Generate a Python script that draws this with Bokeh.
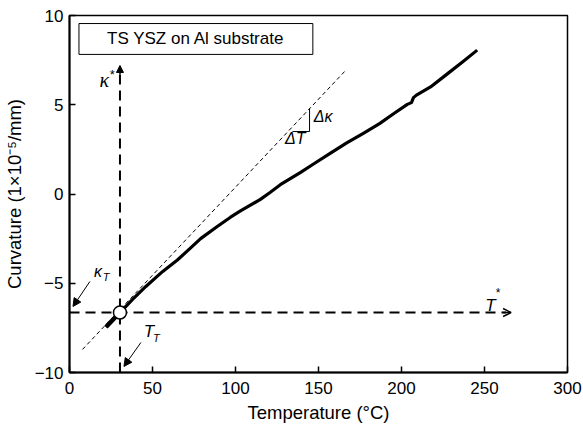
from bokeh.plotting import figure
from bokeh.models import Range1d, Arrow, NormalHead, OpenHead, BoxAnnotation, Label
from bokeh.embed import file_html
from bokeh.resources import INLINE

# Measured curvature vs temperature
temperature = [22.0, 26.0, 30.4, 38.0, 46.0, 56.0, 65.0, 72.0, 79.0, 89.0, 97.0, 103.0,
               115.0, 121.0, 127.0, 133.0, 139.0, 147.0, 157.0, 167.0, 177.0, 187.0, 195.0,
               203.5, 206.0, 207.2, 209.0, 217.5, 227.6, 237.5, 245.6]
curvature = [-7.45, -7.06, -6.64, -5.90, -5.18, -4.35, -3.70, -3.10, -2.50, -1.82, -1.30, -0.95,
             -0.30, 0.10, 0.52, 0.86, 1.20, 1.68, 2.28, 2.86, 3.40, 3.96, 4.48,
             5.02, 5.12, 5.40, 5.54, 6.00, 6.73, 7.45, 8.06]

# Tangent (linear fit) line
tangent_T = [7.8, 165.7]
tangent_k = [-8.71, 6.86]

# Transition point
T_T = 30.4
kappa_T = -6.64
kappa_axis_top = 7.2
T_axis_end = 266.0

x_ticks = [0, 50, 100, 150, 200, 250, 300]
y_ticks = [-10, -5, 0, 5, 10]

FONT = "Liberation Sans"
SERIF = "Liberation Serif"

p = figure(width=583, height=429, output_backend="svg", toolbar_location=None,
           x_range=Range1d(0, 300), y_range=Range1d(-10, 10),
           min_border_left=68, min_border_right=16, min_border_top=15, min_border_bottom=57,
           background_fill_color="white", border_fill_color="white")
p.grid.visible = False
p.outline_line_color = "black"
p.outline_line_width = 1.5
p.outline_line_alpha = 1

for ax in (p.xaxis[0], p.yaxis[0]):
    ax.axis_line_width = 2
    ax.axis_line_color = "black"
    ax.major_tick_in = 6
    ax.major_tick_out = 0
    ax.minor_tick_in = 3
    ax.minor_tick_out = 0
    ax.major_tick_line_width = 1.5
    ax.minor_tick_line_width = 1
    ax.major_label_text_font = FONT
    ax.major_label_text_font_size = "17px"
    ax.major_label_text_color = "black"
    ax.axis_label_text_font = FONT
    ax.axis_label_text_font_size = "18.5px"
    ax.axis_label_text_font_style = "normal"
    ax.axis_label_text_color = "black"

p.xaxis.ticker = x_ticks
p.yaxis.ticker = y_ticks
p.xaxis.ticker.num_minor_ticks = 5
p.yaxis.ticker.num_minor_ticks = 5
p.xaxis.major_label_standoff = 9
p.yaxis.major_label_standoff = 6
p.xaxis.axis_label = "Temperature (°C)"
p.yaxis.axis_label = "Curvature (1×10⁻⁵/mm)"
p.xaxis.axis_label_standoff = 5
p.yaxis.axis_label_standoff = 7

# tangent line
p.line(tangent_T, tangent_k, line_color="black", line_width=1, line_dash="4 3")

# dashed reference axes
p.line([T_T, T_T], [-10, kappa_axis_top - 0.3], line_color="black", line_width=2, line_dash="10 6")
p.line([0, T_axis_end - 3], [kappa_T, kappa_T], line_color="black", line_width=2, line_dash="10 6")
p.add_layout(Arrow(end=NormalHead(size=7, fill_color="black", line_color="black"),
                   x_start=T_T, y_start=kappa_axis_top - 0.5, x_end=T_T, y_end=kappa_axis_top,
                   line_width=1.5))
p.add_layout(Arrow(end=OpenHead(size=8, line_color="black", line_width=1.5),
                   x_start=T_axis_end - 5, y_start=kappa_T, x_end=T_axis_end, y_end=kappa_T,
                   line_width=1.5))

# data curve
p.line(temperature, curvature, line_color="black", line_width=3.2, line_join="round")
p.line(temperature[:3], curvature[:3], line_color="black", line_width=4.5)

# transition point
p.scatter([T_T], [kappa_T], size=13, marker="circle", fill_color="white",
          line_color="black", line_width=1.5)

# slope triangle
tri_x = [134.3, 144.6, 144.6]
tri_y = [3.5, 3.5, 4.79]
p.line(tri_x, tri_y, line_color="black", line_width=1)

# annotation arrows
p.add_layout(Arrow(end=NormalHead(size=8, fill_color="black", line_color="black"),
                   x_start=12.3, y_start=-4.9, x_end=2.1, y_end=-6.3, line_width=1))
p.add_layout(Arrow(end=NormalHead(size=8, fill_color="black", line_color="black"),
                   x_start=43.0, y_start=-8.32, x_end=32.8, y_end=-9.66, line_width=1))

# title box
p.add_layout(BoxAnnotation(left=5.7, right=146.6, bottom=7.82, top=9.55,
                           fill_color="white", fill_alpha=1, line_color="black",
                           line_alpha=1, line_width=1))
p.add_layout(Label(x=76.1, y=8.69, text="TS YSZ on Al substrate", text_font=FONT,
                   text_font_size="17px", text_align="center", text_baseline="middle",
                   text_color="black"))

def lab(x, y, t, size="16px", align="left", baseline="middle", style="italic", font=FONT):
    p.add_layout(Label(x=x, y=y, text=t, text_font=font, text_font_size=size,
                       text_font_style=style, text_align=align, text_baseline=baseline,
                       text_color="black"))

# kappa* label
lab(23.8, 6.36, "κ", size="20px", align="right", font=SERIF)
lab(24.2, 6.72, "*", size="13px", style="normal")
# T* label
lab(250.5, -6.25, "T", size="17px", baseline="alphabetic")
lab(256.8, -5.55, "*", size="12px", style="normal", baseline="alphabetic")
# delta labels
lab(147.2, 4.34, "Δκ", size="16px")
lab(136.0, 3.12, "ΔT", size="16px", align="center")
# kappa_T label
lab(14.7, -4.35, "κ", size="16px")
lab(20.0, -4.65, "T", size="11px")
# T_T label
lab(44.8, -7.7, "T", size="17px")
lab(50.3, -8.05, "T", size="11px")

open("out.html", "w").write(file_html(p, INLINE))
